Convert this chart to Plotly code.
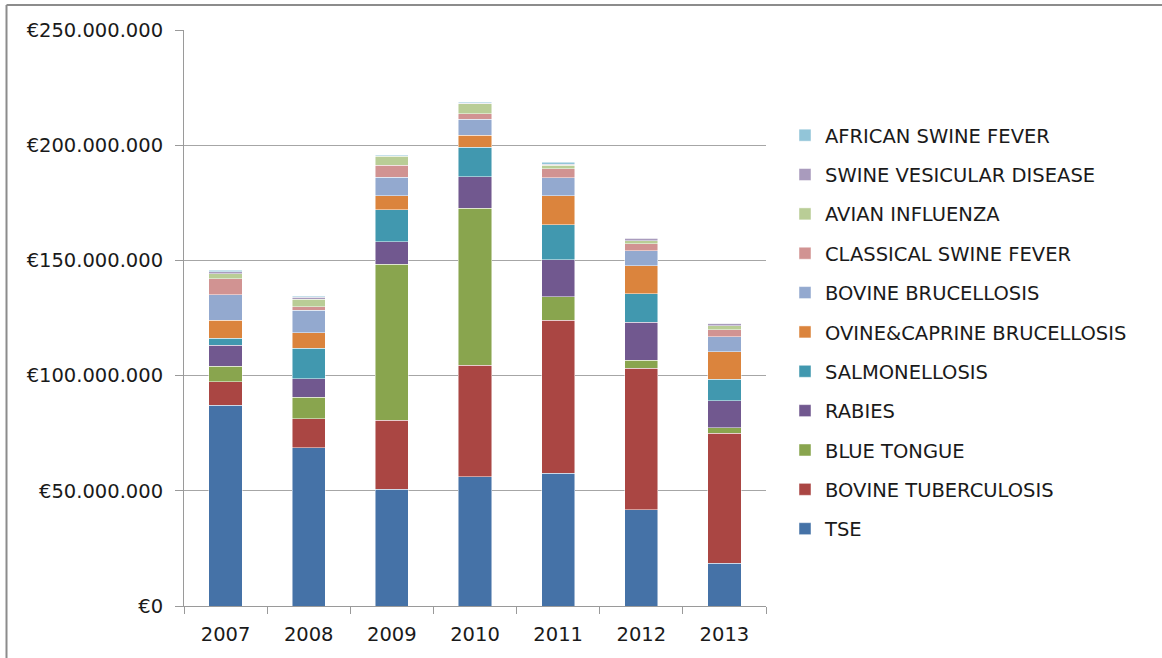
import plotly.graph_objects as go

years = ["2007", "2008", "2009", "2010", "2011", "2012", "2013"]

# values in EUR millions, bottom-to-top stacking order
tse = [87.1, 68.7, 50.6, 56.0, 57.6, 41.8, 18.5]
bovine_tb = [10.2, 12.5, 30.1, 48.6, 66.5, 61.4, 56.5]
blue_tongue = [6.8, 9.5, 67.7, 68.1, 10.1, 3.5, 2.4]
rabies = [9.1, 8.0, 9.7, 13.6, 16.0, 16.5, 11.7]
salmonellosis = [3.0, 13.2, 13.8, 12.8, 15.2, 12.3, 9.3]
ovine_caprine = [7.8, 6.8, 6.2, 5.3, 12.7, 12.2, 12.0]
bovine_brucellosis = [11.2, 9.7, 8.0, 6.8, 7.8, 6.5, 6.4]
classical_swine = [6.8, 1.4, 5.2, 2.5, 3.8, 3.0, 3.0]
avian_influenza = [2.3, 3.4, 3.9, 4.3, 1.6, 1.4, 1.9]
swine_vesicular = [0.7, 0.7, 0.2, 0.2, 0.5, 1.1, 1.0]
african_swine = [0.7, 0.5, 0.4, 0.4, 0.8, 0.1, 0.1]

series_names = ["TSE", "BOVINE TUBERCULOSIS", "BLUE TONGUE", "RABIES", "SALMONELLOSIS",
                "OVINE&CAPRINE BRUCELLOSIS", "BOVINE BRUCELLOSIS", "CLASSICAL SWINE FEVER",
                "AVIAN INFLUENZA", "SWINE VESICULAR DISEASE", "AFRICAN SWINE FEVER"]
series_values = [tse, bovine_tb, blue_tongue, rabies, salmonellosis, ovine_caprine,
                 bovine_brucellosis, classical_swine, avian_influenza, swine_vesicular, african_swine]
colors = ["#4572A7", "#AA4643", "#89A54E", "#71588F", "#4198AF", "#DB843D",
          "#93A9CF", "#D19392", "#B9CD96", "#A99BBD", "#92C5D8"]

tick_vals = [0, 50e6, 100e6, 150e6, 200e6, 250e6]
tick_text = ["€0", "€50.000.000", "€100.000.000", "€150.000.000", "€200.000.000", "€250.000.000"]

FONT = "DejaVu Sans"
FS = 19.5

fig = go.Figure()
n = len(series_names)
for i, (name, vals, col) in enumerate(zip(series_names, series_values, colors)):
    fig.add_trace(go.Bar(
        x=years, y=[v * 1e6 for v in vals], name=name,
        marker=dict(color=col, line=dict(color="rgba(255,255,255,0.6)", width=0.8)),
        width=0.4, legendgroup=name, legendrank=100 + (n - i),
    ))

W, H = 1162, 658
L, R, T, B = 184, 766, 30, 606

def px_x(p):
    return (p - L) / (R - L)

def px_y(p):
    return (B - p) / (B - T)

fig.update_layout(
    width=W, height=H,
    barmode="stack",
    plot_bgcolor="white", paper_bgcolor="white",
    margin=dict(l=L, r=W - R, t=T, b=H - B, autoexpand=False),
    font=dict(family=FONT, size=FS, color="#1a1a1a"),
    showlegend=True,
    legend=dict(
        traceorder="grouped",
        tracegroupgap=11,
        x=px_x(785), xanchor="left",
        y=px_y(332), yanchor="middle",
        font=dict(family=FONT, size=FS, color="#1a1a1a"),
        bgcolor="rgba(0,0,0,0)",
    ),
    xaxis=dict(
        showgrid=False, showline=True, linecolor="#9a9a9a", linewidth=1,
        ticks="outside", tickson="boundaries", ticklen=7, tickcolor="#9a9a9a",
        tickfont=dict(family=FONT, size=FS, color="#1a1a1a"),
        ticklabelstandoff=11,
    ),
    yaxis=dict(
        range=[0, 250e6], tickvals=tick_vals, ticktext=tick_text,
        showgrid=True, gridcolor="#a6a6a6", gridwidth=1,
        showline=True, linecolor="#9a9a9a", linewidth=1,
        ticks="outside", ticklen=8, tickcolor="#9a9a9a",
        tickfont=dict(family=FONT, size=FS, color="#1a1a1a"),
        ticklabelstandoff=8,
        zeroline=False,
    ),
    shapes=[
        dict(type="line", xref="paper", yref="paper",
             x0=px_x(6.5), x1=px_x(6.5), y0=px_y(5), y1=px_y(660),
             line=dict(color="#8c8c8c", width=2)),
        dict(type="line", xref="paper", yref="paper",
             x0=px_x(6.5), x1=px_x(1165), y0=px_y(5), y1=px_y(5),
             line=dict(color="#8c8c8c", width=2)),
    ],
)

fig.write_html("out.html", config={"displayModeBar": False},
               post_script="document.body.style.margin='0';")
